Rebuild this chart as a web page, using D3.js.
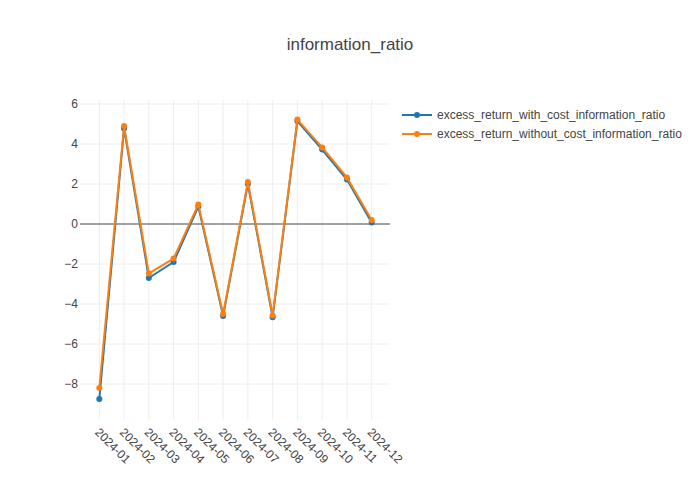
<!DOCTYPE html>
<html><head><meta charset="utf-8">
<script src="https://cdn.jsdelivr.net/npm/d3@7"></script>
<style>body{margin:0;background:#fff}</style>
</head><body>
<script>
const categories = ["2024-01","2024-02","2024-03","2024-04","2024-05","2024-06","2024-07","2024-08","2024-09","2024-10","2024-11","2024-12"];
const withCost = [-8.75, 4.78, -2.7, -1.9, 0.87, -4.6, 2.0, -4.66, 5.15, 3.72, 2.22, 0.07];
const withoutCost = [-8.2, 4.9, -2.47, -1.73, 0.98, -4.5, 2.1, -4.57, 5.22, 3.83, 2.33, 0.2];
const yTicks = [-8, -6, -4, -2, 0, 2, 4, 6];
const seriesNames = ["excess_return_with_cost_information_ratio", "excess_return_without_cost_information_ratio"];
const colors = ["#1f77b4", "#ff7f0e"];

const W = 700, H = 500;
const m = {l: 80, r: 310, t: 100, b: 80};
const svg = d3.select("body").append("svg").attr("width", W).attr("height", H)
  .style("font-family", "'Liberation Sans', Arial, sans-serif");

const x = d3.scaleLinear().domain([-0.78, 11.74]).range([m.l, W - m.r]);
const y = d3.scaleLinear().domain([-9.8, 6.2]).range([H - m.b, m.t]);

// grid
const g = svg.append("g");
g.selectAll(".vg").data(categories).enter().append("line")
  .attr("x1", (d,i) => x(i)).attr("x2", (d,i) => x(i))
  .attr("y1", m.t).attr("y2", H - m.b)
  .attr("stroke", "#eee").attr("stroke-width", 1);
g.selectAll(".hg").data(yTicks.filter(v => v !== 0)).enter().append("line")
  .attr("x1", m.l).attr("x2", W - m.r)
  .attr("y1", d => y(d)).attr("y2", d => y(d))
  .attr("stroke", "#eee").attr("stroke-width", 1);
g.append("line").attr("x1", m.l).attr("x2", W - m.r)
  .attr("y1", y(0)).attr("y2", y(0)).attr("stroke", "#444").attr("stroke-width", 1);

// y tick labels
svg.selectAll(".yt").data(yTicks).enter().append("text")
  .attr("x", m.l - 2).attr("y", d => y(d)).attr("dy", "0.35em")
  .attr("text-anchor", "end").attr("font-size", 12).attr("fill", "#444")
  .text(d => d < 0 ? "\u2212" + Math.abs(d) : d);

// x tick labels
svg.selectAll(".xt").data(categories).enter().append("text")
  .attr("transform", (d,i) => `translate(${x(i) + 1},${H - m.b + 7}) rotate(45)`)
  .attr("text-anchor", "start").attr("dy", "0.71em")
  .attr("font-size", 12).attr("fill", "#444").text(d => d);

// series
const series = [withCost, withoutCost];
const line = d3.line().x((d,i) => x(i)).y(d => y(d));
series.forEach((s, k) => {
  const sg = svg.append("g");
  sg.append("path").datum(s).attr("d", line).attr("fill", "none")
    .attr("stroke", colors[k]).attr("stroke-width", 2).attr("stroke-linejoin", "round");
  sg.selectAll("circle").data(s).enter().append("circle")
    .attr("cx", (d,i) => x(i)).attr("cy", d => y(d)).attr("r", 3).attr("fill", colors[k]);
});

// legend
const lg = svg.append("g").attr("transform", "translate(402,115)");
seriesNames.forEach((n, k) => {
  const row = lg.append("g").attr("transform", `translate(0,${k * 19})`);
  row.append("line").attr("x1", 0).attr("x2", 30).attr("y1", 0).attr("y2", 0)
    .attr("stroke", colors[k]).attr("stroke-width", 2);
  row.append("circle").attr("cx", 15).attr("cy", 0).attr("r", 3).attr("fill", colors[k]);
  row.append("text").attr("x", 35).attr("y", 0).attr("dy", "0.35em")
    .attr("font-size", 12).attr("fill", "#444").text(n);
});

// title
svg.append("text").attr("x", W / 2).attr("y", 50).attr("text-anchor", "middle")
  .attr("font-size", 17).attr("fill", "#444").text("information_ratio");
</script>
</body></html>
